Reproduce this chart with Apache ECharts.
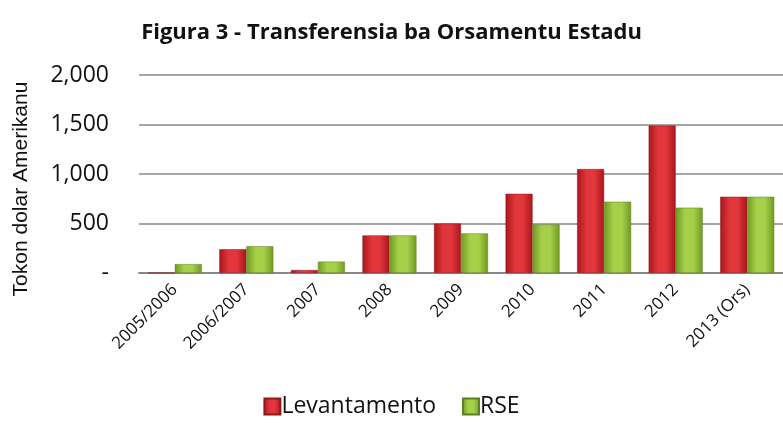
<!DOCTYPE html>
<html>
<head>
<meta charset="utf-8">
<script src="https://cdn.jsdelivr.net/npm/echarts@6/dist/echarts.min.js"></script>
<style>
  html, body { margin: 0; padding: 0; background: #fff; }
  #main { width: 783px; height: 423px; }
</style>
</head>
<body>
<div id="main"></div>
<script>
// data
const categories = ['2005/2006', '2006/2007', '2007', '2008', '2009', '2010', '2011', '2012', '2013 (Ors)'];
const levantamento = [0, 240, 30, 380, 500, 800, 1050, 1490, 770];
const rse = [90, 270, 115, 380, 400, 490, 720, 660, 770];
const yTicks = [0, 500, 1000, 1500, 2000];

const chartDom = document.getElementById('main');
const myChart = echarts.init(chartDom);

// horizontal gradient gives the bars their rounded look
function barFill(dark, light) {
  return new echarts.graphic.LinearGradient(0, 0, 1, 0, [
    { offset: 0, color: dark },
    { offset: 0.35, color: light },
    { offset: 0.65, color: light },
    { offset: 1, color: dark },
  ]);
}

const fontFam = '"Open Sans", "Liberation Sans", sans-serif';

const option = {
  animation: false,
  title: {
    text: 'Figura 3 - Transferensia ba Orsamentu Estadu',
    left: 'center',
    top: 17,
    textStyle: { fontFamily: fontFam, fontSize: 22, fontWeight: 'bold', color: '#111' },
  },
  // y axis title, placed a bit lower than the plot's middle like the original
  graphic: [
    {
      type: 'text',
      x: 21,
      y: 189,
      rotation: Math.PI / 2,
      style: {
        text: 'Tokon dolar Amerikanu',
        fontFamily: '"Liberation Sans", Arial, sans-serif',
        fontSize: 21,
        fill: '#111',
        align: 'center',
        verticalAlign: 'middle',
      },
    },
  ],
  legend: {
    data: ['Levantamento', 'RSE'],
    bottom: 0,
    left: 'center',
    itemWidth: 16,
    itemHeight: 16,
    itemGap: 26,
    icon: 'rect',
    textStyle: { fontFamily: fontFam, fontSize: 23, color: '#111', padding: [0, 0, 0, -4] },
  },
  grid: {
    left: 139,
    right: -8,
    top: 75,
    bottom: 150,
  },
  xAxis: {
    type: 'category',
    data: categories,
    axisLine: { show: true, lineStyle: { color: '#888', width: 2 } },
    axisTick: { show: false },
    axisLabel: {
      rotate: 45,
      interval: 0,
      margin: 14,
      fontFamily: fontFam,
      fontSize: 17,
      color: '#111',
    },
  },
  yAxis: {
    type: 'value',
    min: yTicks[0],
    max: yTicks[yTicks.length - 1],
    interval: 500,
    axisLine: { show: false },
    axisTick: { show: false },
    axisLabel: {
      margin: 30,
      fontFamily: fontFam,
      fontSize: 23,
      color: '#111',
      formatter: v => (v === 0 ? '-' : v.toLocaleString('en-US')),
    },
    splitLine: { lineStyle: { color: '#a6a6a6', width: 2 } },
  },
  series: [
    {
      name: 'Levantamento',
      type: 'bar',
      data: levantamento,
      barWidth: 27,
      barGap: '0%',
      itemStyle: {
        color: barFill('#a8161b', '#e0363c'),
        borderColor: '#8c1a1c',
        borderWidth: 0.5,
      },
    },
    {
      name: 'RSE',
      type: 'bar',
      data: rse,
      barWidth: 27,
      barGap: '0%',
      itemStyle: {
        color: barFill('#6f9a22', '#a7d04a'),
        borderColor: '#5f7f25',
        borderWidth: 0.5,
      },
    },
  ],
};

myChart.setOption(option);
</script>
</body>
</html>
